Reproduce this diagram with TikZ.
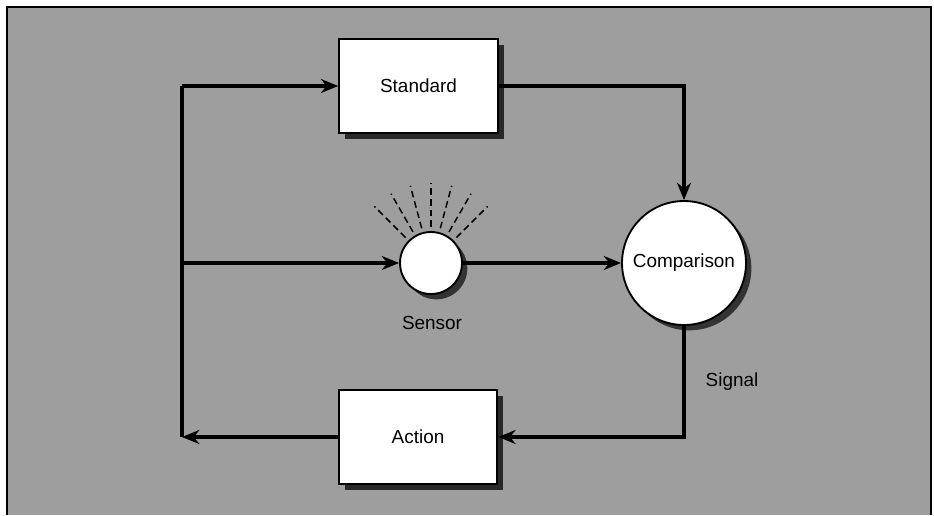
\documentclass[tikz,border=0pt]{standalone}
\usepackage{fontspec}
\setmainfont{Liberation Sans}
\usetikzlibrary{arrows.meta,shadows,calc}
\definecolor{bggray}{RGB}{158,158,158}
\definecolor{shadowgray}{RGB}{40,40,40}
\begin{document}
\begin{tikzpicture}[x=0.75pt,y=-0.75pt,
  lbl/.style={font=\fontsize{14.2}{16}\selectfont},
  boxnode/.style={draw=black,line width=1.4pt,fill=white,minimum width=119pt,minimum height=71pt,inner sep=0pt,lbl,
    drop shadow={shadow xshift=4.5pt,shadow yshift=-4.5pt,fill=shadowgray,opacity=1}},
  circnode/.style={circle,draw=black,line width=1.4pt,fill=white,inner sep=0pt,lbl,
    drop shadow={shadow xshift=4pt,shadow yshift=-4pt,fill=shadowgray,opacity=0.9}},
  conn/.style={line width=2.6pt,-{Stealth[length=13pt,width=10.5pt]}},
  plain/.style={line width=2.6pt},
  ray/.style={line width=1.1pt,dash pattern=on 5pt off 3pt}]
\useasboundingbox (0,0) rectangle (934,515);
\fill[white] (0,0) rectangle (934,515);
\fill[bggray] (7,7) rectangle (931,515);
\draw[line width=1.6pt] (7,515) -- (7,7) -- (931,7) -- (931,515);

\node[boxnode] (std) at (418.5,86) {Standard};
\node[boxnode] (act) at (418,437) {Action};
\node[circnode,minimum size=93pt] (cmp) at (684,263) {Comparison};
\node[circnode,minimum size=46.5pt] (sen) at (431,263) {};
\node[lbl,anchor=north] (senlbl) at (432,312) {Sensor};
\node[lbl] (sig) at (732,382) {Signal};

\foreach \a in {45,60,...,135}{
  \draw[ray] ($(sen.center)+(-\a:36)$) -- ($(sen.center)+(-\a:80)$);
}

\coordinate (tl) at (182,86);
\coordinate (ml) at (182,263);
\coordinate (bl) at (182,437);
\coordinate (tr) at (684,86);
\coordinate (br) at (684,437);

\draw[plain] (tl) -- (bl);
\draw[conn] (tl) -- (std.west);
\draw[conn] (ml) -- (sen.west);
\draw[conn] (std.east) -- (tr) -- (cmp.north);
\draw[conn] (sen.east) -- (cmp.west);
\draw[conn] (cmp.south) -- (br) -- (act.east);
\draw[conn] (act.west) -- (bl);
\end{tikzpicture}
\end{document}
